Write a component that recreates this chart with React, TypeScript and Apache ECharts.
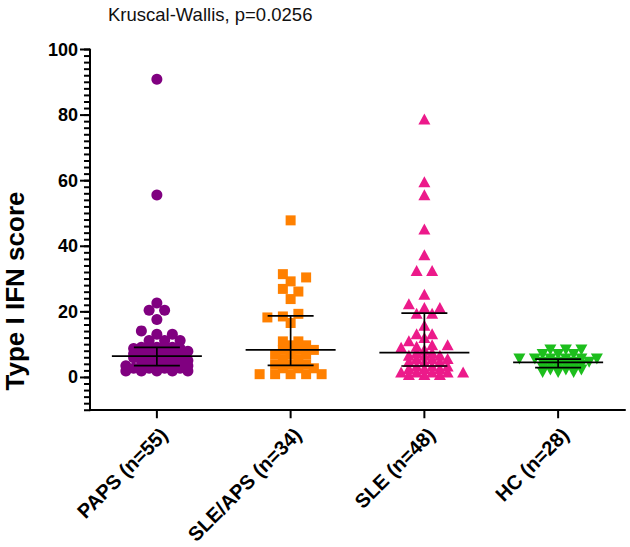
import React, { useEffect, useRef } from 'react';
import * as echarts from 'echarts';

const categories = ['PAPS (n=55)', 'SLE/APS (n=34)', 'SLE (n=48)', 'HC (n=28)'];
const yTickValues = [0, 20, 40, 60, 80, 100];
const titleText = 'Kruscal-Wallis, p=0.0256';
const yAxisTitle = 'Type I IFN score';

const papsValues = [
  90.9, 55.6, 22.7, 20.5, 20.5, 17.7, 14.2, 13.2, 13.2,
  11.3, 11.3, 11.3,
  9.2, 9.2, 9.2,
  8.8, 8.8, 8.8, 8.8,
  8.0, 8.0, 8.0, 8.0,
  7.2, 7.2, 7.2, 7.2,
  6.5, 6.5, 6.5,
  6.0, 6.0, 6.0, 6.0,
  5.2, 5.2, 5.2, 5.2,
  4.4, 4.4, 4.4,
  3.6, 3.6, 3.6, 3.6, 3.6,
  2.8, 2.8, 2.8, 2.8,
  2.0, 2.0, 2.0, 2.0, 2.0,
];

const sleApsValues = [
  47.9, 31.5, 30.5, 29.3, 27.0, 26.2, 23.9, 19.4, 18.6, 18.3, 16.6,
  11.0, 11.0, 9.8, 9.8,
  8.4, 8.4, 8.4,
  7.0, 7.0, 7.0,
  5.5, 5.5,
  4.0, 4.0, 4.0,
  2.8, 2.8, 2.8,
  1.0, 1.0, 1.0, 1.0, 1.0,
];

const sleValues = [
  78.8, 59.7, 55.7, 45.3, 37.4, 32.6, 32.6, 25.4, 22.5, 21.3, 21.3, 19.6, 19.6,
  15.9, 13.3, 13.3, 12.2, 11.2, 10.0, 10.0, 9.5, 9.2, 8.5,
  7.6, 7.6,
  6.8, 6.8, 6.8,
  5.8, 5.8, 5.8,
  4.9, 4.9, 4.9,
  3.5, 3.5, 3.5,
  2.7, 2.7, 2.7,
  1.7, 1.7, 1.7, 1.7, 1.7,
  0.9, 0.9, 0.9,
];

const hcValues = [
  8.4, 8.4, 8.4,
  7.0, 7.0, 7.0,
  5.6, 5.6, 5.6, 5.6, 5.6, 5.6,
  4.6, 4.6, 4.6, 4.6,
  3.8, 3.8, 3.8,
  3.0, 3.0, 3.0,
  2.3, 2.3, 2.3,
  1.5, 1.5, 1.5,
];

const groups = [papsValues, sleApsValues, sleValues, hcValues];
const colors = ['#800080', '#FF8000', '#EC1A8A', '#1DBE1D'];
const symbols = ['circle', 'rect', 'triangle', 'triangle'];
const symbolSizes: any[] = [11, 10, [12, 11], [12, 11]];
const symbolRotates = [0, 0, 0, 180];

const FONT = '"Liberation Sans", Arial, Helvetica, sans-serif';

const GRID = { left: 90, right: 5, top: 49.5, bottom: 134.5 };
const W = 630;
const H = 547;
const Y_MIN = -10;
const Y_MAX = 100;
const MINOR_STEP = 2;
const PX_PER_UNIT = (H - GRID.top - GRID.bottom) / (Y_MAX - Y_MIN);
const CAT_PX = (W - GRID.left - GRID.right) / categories.length;

function quantile(sorted: number[], p: number) {
  const n = sorted.length;
  const pos = (n + 1) * p;
  const lo = Math.floor(pos);
  const frac = pos - lo;
  const a = sorted[Math.max(0, Math.min(n - 1, lo - 1))];
  const b = sorted[Math.max(0, Math.min(n - 1, lo))];
  return a + (b - a) * frac;
}

function swarm(values: number[], gi: number, symbolPx: number, spacingPx: number) {
  const sorted = [...values].sort((a, b) => a - b);
  const rows: number[][] = [];
  for (const v of sorted) {
    const last = rows[rows.length - 1];
    if (last && v - last[0] <= 0.35) last.push(v);
    else rows.push([v]);
  }
  const placed: { dx: number; y: number }[] = [];
  const out: number[][] = [];
  const shifts = [0, spacingPx / 2, -spacingPx / 2, spacingPx, -spacingPx];
  for (const row of rows) {
    const n = row.length;
    let best = 0;
    let bestScore = -Infinity;
    for (const shift of shifts) {
      let minD = symbolPx;
      row.forEach((v, i) => {
        const dx = (i - (n - 1) / 2) * spacingPx + shift;
        const y = v * PX_PER_UNIT;
        for (const p of placed) {
          if (Math.abs(p.y - y) < symbolPx * 1.5) {
            const d = Math.hypot(p.dx - dx, p.y - y);
            if (d < minD) minD = d;
          }
        }
      });
      const score = minD - 0.02 * Math.abs(shift);
      if (score > bestScore + 1e-9) {
        bestScore = score;
        best = shift;
      }
    }
    row.forEach((v, i) => {
      const dx = (i - (n - 1) / 2) * spacingPx + best;
      placed.push({ dx, y: v * PX_PER_UNIT });
      out.push([gi + dx / CAT_PX, v]);
    });
  }
  return out;
}

export default function App() {
  const ref = useRef<HTMLDivElement>(null);
  useEffect(() => {
    if (!ref.current) return;
    const chart = echarts.init(ref.current, null, { renderer: 'svg' });

    const stats = groups.map((g, gi) => {
      const s = [...g].sort((a, b) => a - b);
      return [gi, quantile(s, 0.25), quantile(s, 0.5), quantile(s, 0.75)];
    });

    const minorTickValues: number[] = [];
    for (let v = Y_MIN; v <= Y_MAX + 1e-9; v += MINOR_STEP) minorTickValues.push(v);

    const scatterSeries = groups.map((g, gi) => ({
      type: 'scatter',
      name: categories[gi],
      xAxisIndex: 1,
      yAxisIndex: 0,
      symbol: symbols[gi],
      symbolSize: symbolSizes[gi],
      symbolRotate: symbolRotates[gi],
      itemStyle: { color: colors[gi], opacity: 1 },
      data: swarm(g, gi, 10, 15.5),
      z: 2,
    }));

    const errorSeries = {
      type: 'custom',
      xAxisIndex: 1,
      yAxisIndex: 0,
      z: 5,
      clip: false,
      data: stats,
      renderItem: (params: any, api: any) => {
        const gi = api.value(0);
        const q1 = api.coord([gi, api.value(1)]);
        const med = api.coord([gi, api.value(2)]);
        const q3 = api.coord([gi, api.value(3)]);
        const st = { stroke: '#000', lineWidth: 1.7 };
        const x = med[0];
        return {
          type: 'group',
          children: [
            { type: 'line', shape: { x1: x - 45, y1: med[1], x2: x + 45, y2: med[1] }, style: st },
            { type: 'line', shape: { x1: x, y1: q1[1], x2: x, y2: q3[1] }, style: st },
            { type: 'line', shape: { x1: x - 23, y1: q1[1], x2: x + 23, y2: q1[1] }, style: st },
            { type: 'line', shape: { x1: x - 23, y1: q3[1], x2: x + 23, y2: q3[1] }, style: st },
          ],
        };
      },
    };

    const tickSeries = {
      type: 'custom',
      xAxisIndex: 1,
      yAxisIndex: 0,
      z: 6,
      clip: false,
      silent: true,
      data: [[0, 0]],
      renderItem: (params: any, api: any) => {
        const children: any[] = [];
        minorTickValues.forEach((v) => {
          const p = api.coord([-0.5, v]);
          children.push({
            type: 'rect',
            shape: { x: p[0] - 6, y: p[1] - 1, width: 6, height: 2 },
            style: { fill: '#000' },
          });
        });
        yTickValues.forEach((v) => {
          const p = api.coord([-0.5, v]);
          children.push({
            type: 'rect',
            shape: { x: p[0] - 10, y: p[1] - 1, width: 10, height: 2 },
            style: { fill: '#000' },
          });
        });
        categories.forEach((_, i) => {
          const p = api.coord([i, Y_MIN]);
          children.push({
            type: 'rect',
            shape: { x: p[0] - 1, y: p[1], width: 2, height: 8 },
            style: { fill: '#000' },
          });
        });
        return { type: 'group', children };
      },
    };

    const option: any = {
      animation: false,
      backgroundColor: '#ffffff',
      title: {
        text: titleText,
        left: 103,
        top: 0,
        textStyle: { fontFamily: FONT, fontSize: 18.5, fontWeight: 'normal', color: '#111' },
      },
      grid: { ...GRID, containLabel: false },
      xAxis: [
        {
          type: 'category',
          data: categories,
          boundaryGap: true,
          axisLine: { onZero: false, lineStyle: { color: '#000', width: 2 } },
          axisTick: { show: false },
          axisLabel: {
            rotate: 45,
            margin: 14,
            interval: 0,
            verticalAlign: 'top',
            fontFamily: FONT,
            fontSize: 20,
            fontWeight: 'bold',
            color: '#000',
          },
          splitLine: { show: false },
        },
        { type: 'value', min: -0.5, max: 3.5, show: false },
      ],
      yAxis: [
        {
          type: 'value',
          position: 'left',
          min: Y_MIN,
          max: Y_MAX,
          axisLine: { show: true, onZero: false, lineStyle: { color: '#000', width: 2 } },
          axisTick: { show: false },
          axisLabel: {
            customValues: yTickValues,
            margin: 12,
            fontFamily: FONT,
            fontSize: 18,
            fontWeight: 'bold',
            color: '#000',
          },
          splitLine: { show: false },
        },
      ],
      graphic: [
        {
          type: 'text',
          x: 15,
          y: 291,
          rotation: Math.PI / 2,
          style: {
            text: yAxisTitle,
            fontFamily: FONT,
            fontSize: 26,
            fontWeight: 'bold',
            fill: '#000',
            textAlign: 'center',
            textVerticalAlign: 'middle',
            align: 'center',
            verticalAlign: 'middle',
          },
        },
      ],
      series: [...scatterSeries, errorSeries, tickSeries],
    };
    chart.setOption(option);
    return () => chart.dispose();
  }, []);
  return <div ref={ref} style={{ position: 'fixed', left: 0, top: 0, width: W, height: H }} />;
}
